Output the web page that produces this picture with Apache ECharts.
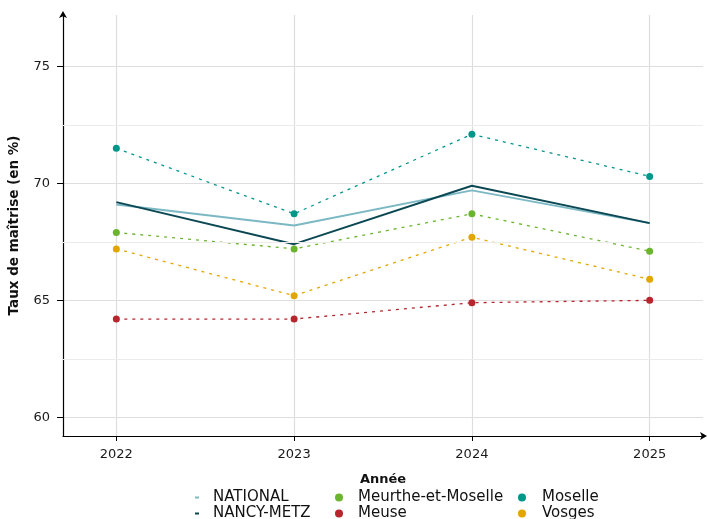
<!DOCTYPE html>
<html><head><meta charset="utf-8">
<script src="https://cdn.jsdelivr.net/npm/echarts@6/dist/echarts.min.js"></script>
<style>html,body{margin:0;padding:0;background:#fff}#c{width:707px;height:519px}</style>
</head><body><div id="c"></div>
<script>
const years = [2022, 2023, 2024, 2025];
const yTicks = [60, 65, 70, 75];
const yMinor = [62.5, 67.5, 72.5];
const national = [69.1, 68.2, 69.7, 68.3];
const nancyMetz = [69.2, 67.4, 69.9, 68.3];
const meurthe = [67.9, 67.2, 68.7, 67.1];
const meuse = [64.2, 64.2, 64.9, 65.0];
const moselle = [71.5, 68.7, 72.1, 70.3];
const vosges = [67.2, 65.2, 67.7, 65.9];

const FONT = '"DejaVu Sans", sans-serif';
const pairs = v => years.map((y, i) => [y, v[i]]);

function lineSeries(name, vals, color, width) {
  return { name, type: 'line', data: pairs(vals), showSymbol: false, symbol: 'none',
    lineStyle: { color, width }, itemStyle: { color }, z: 3, animation: false };
}
function dotSeries(name, vals, color) {
  return { name, type: 'line', data: pairs(vals), symbol: 'circle', symbolSize: 7,
    lineStyle: { color, width: 1.3, type: [3, 5] }, itemStyle: { color }, z: 4, animation: false };
}

const chart = echarts.init(document.getElementById('c'), null, { renderer: 'canvas' });
function legText(padLeft) {
  return { fontFamily: FONT, fontSize: 15, color: '#111', lineHeight: 15, padding: [0, 0, 0, padLeft] };
}
const legBase = { orient: 'vertical', top: 490, height: 40, itemGap: 1, padding: 0 };
chart.setOption({
  backgroundColor: '#fff',
  animation: false,
  grid: { left: 63, right: 4, top: 15, bottom: 83, outerBoundsMode: 'none', containLabel: false },
  xAxis: {
    type: 'value', min: 2021.7, max: 2025.3,
    name: 'Année', nameLocation: 'middle', nameGap: 37,
    nameTextStyle: { fontFamily: FONT, fontSize: 13, fontWeight: 'bold', color: '#111' },
    axisLine: { show: true, lineStyle: { color: '#000', width: 1.2 }, symbol: ['none', 'arrow'], symbolSize: [6, 7], symbolOffset: [0, 4] },
    axisTick: { show: true, customValues: years, length: 5, lineStyle: { color: '#000' } },
    axisLabel: { customValues: years, fontFamily: FONT, fontSize: 13, color: '#1a1a1a', margin: 12, formatter: v => String(v) },
    splitLine: { show: true, lineStyle: { color: '#dedede', width: 1.2 } }
  },
  yAxis: {
    type: 'value', min: 59.2, max: 77.2,
    name: 'Taux de maîtrise (en %)', nameLocation: 'middle', nameGap: 42, nameRotate: 90,
    nameTextStyle: { fontFamily: FONT, fontSize: 13.5, fontWeight: 'bold', color: '#111' },
    axisLine: { show: true, lineStyle: { color: '#000', width: 1.2 }, symbol: ['none', 'arrow'], symbolSize: [6, 7], symbolOffset: [0, 4] },
    axisTick: { show: true, customValues: yTicks, length: 6, lineStyle: { color: '#000' } },
    axisLabel: { customValues: yTicks, fontFamily: FONT, fontSize: 13, color: '#1a1a1a', margin: 13 },
    splitLine: { show: true, lineStyle: { color: '#dedede', width: 1.2 } }
  },
  legend: [
    Object.assign({ data: ['NATIONAL', 'NANCY-METZ'], left: 195, icon: 'rect', itemWidth: 4, itemHeight: 2, textStyle: legText(9) }, legBase),
    Object.assign({ data: ['Meurthe-et-Moselle', 'Meuse'], left: 335, icon: 'circle', itemWidth: 8, itemHeight: 8, textStyle: legText(10) }, legBase),
    Object.assign({ data: ['Moselle', 'Vosges'], left: 518, icon: 'circle', itemWidth: 8, itemHeight: 8, textStyle: legText(11) }, legBase)
  ],
  series: [
    { name: '_minor', type: 'line', data: [], silent: true,
      markLine: { silent: true, symbol: 'none', label: { show: false },
        lineStyle: { color: '#ececec', width: 1, type: 'solid' },
        data: yMinor.map(v => ({ yAxis: v })) }, z: 1 },
    lineSeries('NATIONAL', national, '#7bb8c4', 1.9),
    lineSeries('NANCY-METZ', nancyMetz, '#0b4853', 1.9),
    dotSeries('Meurthe-et-Moselle', meurthe, '#6bb52e'),
    dotSeries('Meuse', meuse, '#b6262c'),
    dotSeries('Moselle', moselle, '#00978a'),
    dotSeries('Vosges', vosges, '#e3a600')
  ]
});
</script></body></html>
